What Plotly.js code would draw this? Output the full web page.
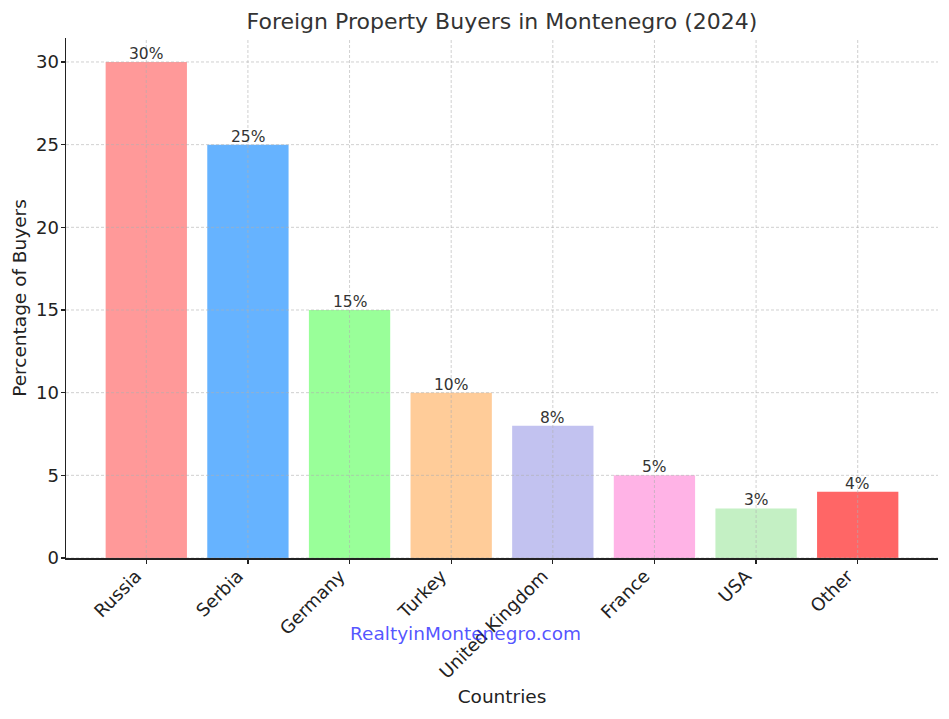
<!DOCTYPE html>
<html>
<head>
<meta charset="utf-8">
<script src="https://cdn.plot.ly/plotly-3.0.1.min.js"></script>
<style>html,body{margin:0;padding:0;background:#fff;}#chart{width:949px;height:719px;}</style>
</head>
<body>
<div id="chart"></div>
<script>
const countries = ["Russia", "Serbia", "Germany", "Turkey", "United Kingdom", "France", "USA", "Other"];
const percentages = [30, 25, 15, 10, 8, 5, 3, 4];
const barColors = ["#ff9999", "#66b3ff", "#99ff99", "#ffcc99", "#c2c2f0", "#ffb3e6", "#c4f0c4", "#ff6666"];
const yTicks = [0, 5, 10, 15, 20, 25, 30];

const font = "DejaVu Sans, sans-serif";
const gridLine = {color: "rgba(176,176,176,0.75)", width: 0.8, dash: "3px,2px"};
const gridShapes = [];
yTicks.forEach(v => gridShapes.push({type: "line", xref: "paper", x0: 0, x1: 1, yref: "y", y0: v, y1: v, layer: "above", line: gridLine}));
countries.forEach(c => gridShapes.push({type: "line", xref: "x", x0: c, x1: c, yref: "paper", y0: 0, y1: 1, layer: "above", line: gridLine}));

const trace = {
  type: "bar",
  x: countries,
  y: percentages,
  marker: {color: barColors, line: {width: 0}},
  width: 0.8,
  hoverinfo: "none"
};

const valueLabels = countries.map((c, i) => ({
  text: percentages[i] + "%", xref: "x", yref: "y", x: c, y: percentages[i],
  xanchor: "center", yanchor: "bottom", yshift: -3, showarrow: false,
  font: {family: font, size: 15.5, color: "#333333"}
}));

const layout = {
  width: 949, height: 719,
  margin: {l: 66, r: 11, t: 38, b: 161},
  paper_bgcolor: "#ffffff", plot_bgcolor: "#ffffff",
  showlegend: false,
  title: {text: "Foreign Property Buyers in Montenegro (2024)", font: {family: font, size: 22, color: "#333333"}, xref: "paper", x: 0.5, xanchor: "center", y: 0.971, yanchor: "middle"},
  xaxis: {
    range: [-0.79, 7.79], showgrid: false, zeroline: false,
    showline: true, linecolor: "#222222", linewidth: 1.5,
    ticks: "outside", ticklen: 4, tickwidth: 1.2, tickcolor: "#222222",
    tickangle: -45, tickfont: {family: font, size: 18, color: "#222222"},
    ticklabelshift: -10, ticklabelstandoff: -5,
    title: {text: "Countries", font: {family: font, size: 18.5, color: "#222222"}, standoff: 8},
    automargin: false, fixedrange: true
  },
  yaxis: {
    range: [0, 31.45], tickvals: yTicks, showgrid: false, zeroline: false,
    showline: true, linecolor: "#222222", linewidth: 1.5,
    ticks: "outside", ticklen: 4, tickwidth: 1.2, tickcolor: "#222222",
    tickfont: {family: font, size: 18, color: "#222222"},
    ticklabelstandoff: -2,
    title: {text: "Percentage of Buyers", font: {family: font, size: 18.5, color: "#222222"}, standoff: 4},
    automargin: false, fixedrange: true
  },
  shapes: gridShapes,
  annotations: valueLabels.concat([{
    text: "RealtyinMontenegro.com", xref: "paper", yref: "paper", x: 0.4587, y: -0.146,
    xanchor: "center", yanchor: "middle", showarrow: false,
    font: {family: font, size: 18.5, color: "rgba(40,40,255,0.8)"}
  }]),
  bargap: 0.2
};

Plotly.newPlot("chart", [trace], layout, {displayModeBar: false, staticPlot: true});
</script>
</body>
</html>
